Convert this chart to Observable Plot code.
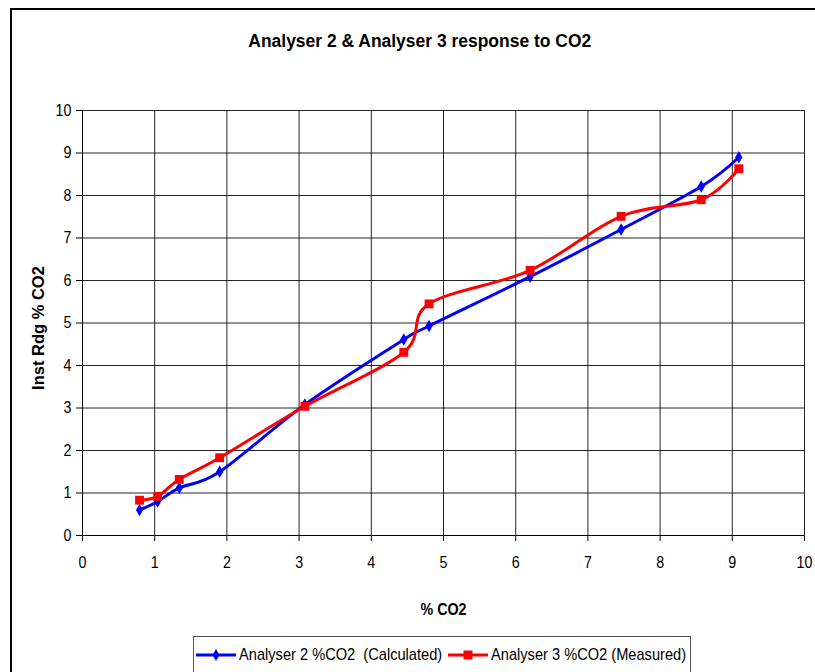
<!DOCTYPE html>
<html>
<head>
<meta charset="utf-8">
<script src="https://cdn.jsdelivr.net/npm/d3@7"></script>
<script src="https://cdn.jsdelivr.net/npm/@observablehq/plot@0.6"></script>
<style>
  html, body { margin: 0; padding: 0; background: #fff; width: 815px; height: 672px; overflow: hidden; }
  body { position: relative; font-family: "Liberation Sans", Arial, sans-serif; }
  #frame { position: absolute; left: 10px; top: 8px; width: 900px; height: 800px; border: 2px solid #000; box-sizing: border-box; }
  #title { position: absolute; left: 0; width: 840px; top: 30px; text-align: center; font-weight: bold; font-size: 18px; line-height: 22px; color: #000; }
  #title span { display: inline-block; transform: scaleX(0.97); }
  #chart { position: absolute; left: 0; top: 0; }
  #legend { position: absolute; left: 193px; top: 636px; width: 498px; height: 60px; border: 1.5px solid #555; box-sizing: border-box; font-size: 17px; }
  .item { position: absolute; top: 8px; white-space: pre; display: flex; align-items: center; }
  .item svg { margin-right: 3px; }
  .item span { display: inline-block; transform: scaleX(0.86); transform-origin: 0 50%; }
</style>
</head>
<body>
<div id="frame"></div>
<div id="title"><span></span></div>
<div id="chart"></div>
<div id="legend"></div>
<script>
// Data
const co2 = [0.79, 1.04, 1.34, 1.90, 3.08, 4.45, 4.80, 6.20, 7.46, 8.57, 9.09];
const analyser2Calc = [0.60, 0.80, 1.12, 1.50, 3.08, 4.61, 4.93, 6.09, 7.20, 8.21, 8.90];
const analyser3Meas = [0.83, 0.92, 1.32, 1.83, 3.04, 4.31, 5.45, 6.24, 7.51, 7.90, 8.63];
const xTicks = [0, 1, 2, 3, 4, 5, 6, 7, 8, 9, 10];
const yTicks = [0, 1, 2, 3, 4, 5, 6, 7, 8, 9, 10];
const seriesNames = ["Analyser 2 %CO2  (Calculated)", "Analyser 3 %CO2 (Measured)"];
const seriesColors = ["#0000ff", "#ff0000"];
const titleText = "Analyser 2 & Analyser 3 response to CO2";
const xLabel = "% CO2";
const yLabel = "Inst Rdg % CO2";

document.querySelector("#title span").textContent = titleText;

const calc = co2.map((x, i) => ({x, y: analyser2Calc[i]}));
const meas = co2.map((x, i) => ({x, y: analyser3Meas[i]}));

const chart = Plot.plot({
  width: 815,
  height: 625,
  marginLeft: 82,
  marginRight: 11,
  marginTop: 110,
  marginBottom: 90,
  style: {fontFamily: "'Liberation Sans', Arial, sans-serif", fontSize: "17px", color: "#000", background: "transparent", overflow: "visible"},
  x: {domain: [0, 10], label: null},
  y: {domain: [0, 10], label: null},
  marks: [
    Plot.gridX(xTicks.slice(1), {stroke: "#000", strokeOpacity: 0.85, strokeWidth: 1}),
    Plot.gridY(yTicks.slice(1), {stroke: "#000", strokeOpacity: 0.85, strokeWidth: 1}),
    Plot.axisX({ticks: xTicks, tickSize: 6, tickPadding: 14, label: null, tickFormat: d => d, stroke: "#000"}),
    Plot.axisY({ticks: yTicks, tickSize: 6, tickPadding: 5, label: null, tickFormat: d => d, stroke: "#000"}),
    Plot.ruleY([0], {stroke: "#000"}),
    Plot.ruleX([0], {stroke: "#000"}),
    Plot.line(calc, {x: "x", y: "y", stroke: seriesColors[0], strokeWidth: 3, curve: "cardinal"}),
    Plot.line(meas, {x: "x", y: "y", stroke: seriesColors[1], strokeWidth: 3, curve: "cardinal"}),
    Plot.dot(calc, {x: "x", y: "y", symbol: "diamond", r: 3.8, fill: seriesColors[0], stroke: "none"}),
    Plot.dot(meas, {x: "x", y: "y", symbol: "square", r: 5, fill: seriesColors[1], stroke: "none"}),
    Plot.text([xLabel], {text: d => d, frameAnchor: "bottom", dy: 79, fontWeight: "bold", fontSize: 17, fill: "#000"}),
    Plot.text([yLabel], {text: d => d, frameAnchor: "left", textAnchor: "middle", dx: -44, dy: 5, rotate: -90, fontWeight: "bold", fontSize: 16.5, fill: "#000"})
  ]
});
document.getElementById("chart").appendChild(chart);

// Condense horizontal texts to match the narrow look of the reference
d3.select(chart).selectAll("text").each(function () {
  if (this.textContent === yLabel) return;
  const w = this.getComputedTextLength();
  if (w > 0) {
    this.setAttribute("textLength", (w * 0.84).toFixed(2));
    this.setAttribute("lengthAdjust", "spacingAndGlyphs");
  }
});

// Legend
const legend = document.getElementById("legend");
const lefts = [2, 254];
seriesNames.forEach((name, i) => {
  const item = document.createElement("div");
  item.className = "item";
  item.style.left = lefts[i] + "px";
  const sym = i === 0
    ? `<path d="M20,1 L23.5,7 L20,13 L16.5,7 Z" fill="${seriesColors[i]}"/>`
    : `<rect x="15.5" y="2.5" width="9" height="9" fill="${seriesColors[i]}"/>`;
  item.innerHTML = `<svg width="40" height="14"><line x1="0" y1="7" x2="40" y2="7" stroke="${seriesColors[i]}" stroke-width="3"/>${sym}</svg><span></span>`;
  item.querySelector("span").textContent = name;
  legend.appendChild(item);
});
</script>
</body>
</html>
